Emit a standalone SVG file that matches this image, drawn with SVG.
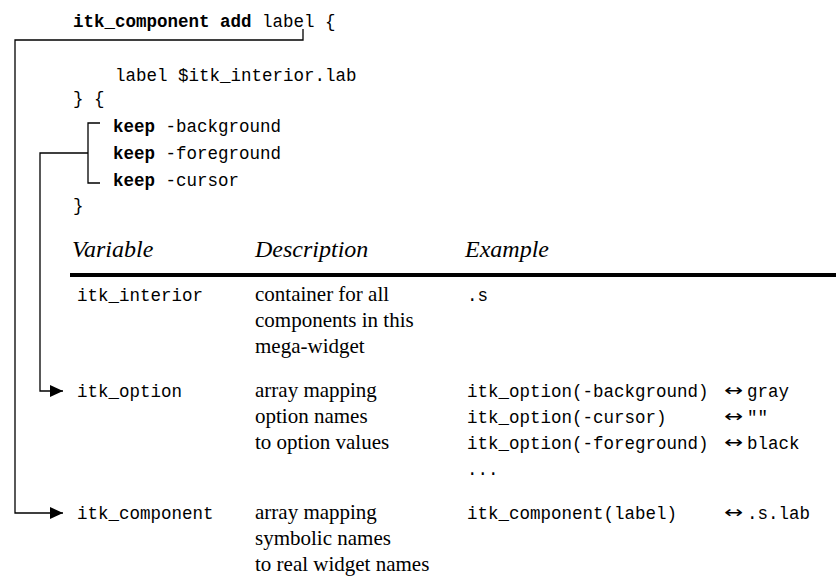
<svg xmlns="http://www.w3.org/2000/svg" width="836" height="577" viewBox="0 0 836 577">
<defs>
<style>
.m{font-family:"Liberation Mono","Courier New",monospace;font-size:17.5px;fill:#000}
.b{font-weight:bold}
.s{font-family:"Liberation Serif","Times New Roman",serif;font-size:21px;fill:#000}
.h{font-family:"Liberation Serif","Times New Roman",serif;font-size:24px;font-style:italic;fill:#000}
.ar{font-family:"DejaVu Sans",sans-serif;font-size:17px;fill:#000}
.ln{fill:none;stroke:#000;stroke-width:1.3}
</style>
<marker id="ah" viewBox="0 0 13 12" refX="13" refY="6" markerWidth="13" markerHeight="12" markerUnits="userSpaceOnUse" orient="auto">
<path d="M0,0 L13,6 L0,12 z" fill="#000"/>
</marker>
</defs>
<rect width="836" height="577" fill="#fff"/>
<g id="code">
<text class="m" x="73" y="27"><tspan class="b">itk_component add</tspan> label {</text>
<text class="m" x="115" y="81">label $itk_interior.lab</text>
<text class="m" x="73" y="104">} {</text>
<text class="m" x="113" y="132"><tspan class="b">keep</tspan> -background</text>
<text class="m" x="113" y="159"><tspan class="b">keep</tspan> -foreground</text>
<text class="m" x="113" y="186"><tspan class="b">keep</tspan> -cursor</text>
<text class="m" x="73" y="211">}</text>
</g>
<g id="connectors">
<path class="ln" d="M303,29 V40 H15 V513 H63" marker-end="url(#ah)"/>
<path class="ln" d="M100,123 H88 V183 H100"/>
<path class="ln" d="M88,153 H40 V391 H63" marker-end="url(#ah)"/>
</g>
<g id="header">
<text class="h" x="72" y="257">Variable</text>
<text class="h" x="255" y="257">Description</text>
<text class="h" x="465" y="257">Example</text>
<rect x="70" y="273" width="766" height="4" fill="#000"/>
</g>
<g id="row-itk_interior">
<text class="m" x="77" y="301">itk_interior</text>
<text class="s" x="255" y="301">container for all</text>
<text class="s" x="255" y="327">components in this</text>
<text class="s" x="255" y="353">mega-widget</text>
<text class="m" x="467" y="301">.s</text>
</g>
<g id="row-itk_option">
<text class="m" x="77" y="397">itk_option</text>
<text class="s" x="255" y="397">array mapping</text>
<text class="s" x="255" y="423">option names</text>
<text class="s" x="255" y="449">to option values</text>
<text class="m" x="467" y="397">itk_option(-background)</text>
<text class="m" x="467" y="423">itk_option(-cursor)</text>
<text class="m" x="467" y="449">itk_option(-foreground)</text>
<text class="m" x="467" y="475">...</text>
<text class="ar" x="724" y="396" textLength="19" lengthAdjust="spacingAndGlyphs">↔</text>
<text class="ar" x="724" y="422" textLength="19" lengthAdjust="spacingAndGlyphs">↔</text>
<text class="ar" x="724" y="448" textLength="19" lengthAdjust="spacingAndGlyphs">↔</text>
<text class="m" x="747" y="397">gray</text>
<text class="m" x="747" y="423">""</text>
<text class="m" x="747" y="449">black</text>
</g>
<g id="row-itk_component">
<text class="m" x="77" y="519">itk_component</text>
<text class="s" x="255" y="519">array mapping</text>
<text class="s" x="255" y="545">symbolic names</text>
<text class="s" x="255" y="571">to real widget names</text>
<text class="m" x="467" y="519">itk_component(label)</text>
<text class="ar" x="724" y="518" textLength="19" lengthAdjust="spacingAndGlyphs">↔</text>
<text class="m" x="747" y="519">.s.lab</text>
</g>
</svg>
